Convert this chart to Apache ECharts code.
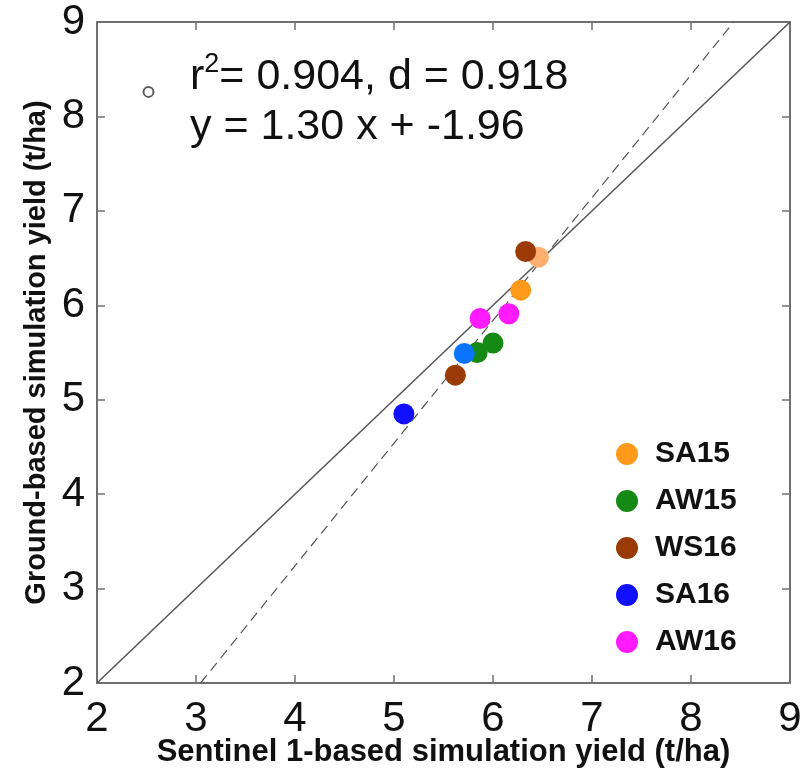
<!DOCTYPE html>
<html>
<head>
<meta charset="utf-8">
<script src="https://cdn.jsdelivr.net/npm/echarts@6/dist/echarts.min.js"></script>
<style>html,body{margin:0;padding:0;background:#fff;}#c{width:809px;height:771px;}</style>
</head>
<body>
<div id="c"></div>
<script>
// Data
const seriesNames = ['SA15', 'AW15', 'WS16', 'SA16', 'AW16'];
const seriesColors = ['#FF9A1A', '#148A14', '#9A3A06', '#1010FF', '#FF1AFF'];
const SA15 = [[6.28, 6.16], [6.46, 6.51]];
const SA15Colors = ['#FF9A1A', '#FFB070'];
const AW15 = [[5.84, 5.50], [6.00, 5.60]];
const WS16 = [[5.62, 5.26], [6.33, 6.57]];
const SA16 = [[5.10, 4.85], [5.71, 5.49]];
const SA16Colors = ['#1010FF', '#0A74FF'];
const AW16 = [[5.87, 5.86], [6.16, 5.91]];
const strayMarker = [[2.52, 8.26]];
const oneToOne = [[2, 2], [9, 9]];
const regSlope = 1.30, regIntercept = -1.96;
const regLine = [[(2 - regIntercept) / regSlope, 2], [(9 - regIntercept) / regSlope, 9]];
const axisTicks = [2, 3, 4, 5, 6, 7, 8, 9];
const statsLine1 = ['r', '2', '= 0.904, d = 0.918'];
const statsLine2 = 'y = 1.30 x + -1.96';

const font = 'Liberation Sans, Arial, sans-serif';
const chart = echarts.init(document.getElementById('c'));

function ptSeries(name, data, idx, colors) {
  return {
    name: name, type: 'scatter', xAxisIndex: 0, yAxisIndex: 0,
    symbol: 'circle', symbolSize: 21, z: 5,
    itemStyle: { color: seriesColors[idx], opacity: 1 },
    data: data.map((d, i) => colors ? { value: d, itemStyle: { color: colors[i] } } : d)
  };
}

const axCommon = {
  type: 'value', min: axisTicks[0], max: axisTicks[axisTicks.length - 1], interval: 1,
  axisLine: { show: true, lineStyle: { color: '#707070', width: 2 } },
  axisTick: { show: true, inside: true, length: 8, lineStyle: { color: '#707070', width: 1.5 } },
  splitLine: { show: false }
};

chart.setOption({
  animation: false,
  backgroundColor: '#fff',
  grid: { left: 97, right: 19, top: 22, bottom: 88, containLabel: false, outerBoundsMode: 'none' },
  xAxis: [
    Object.assign({}, axCommon, {
      position: 'bottom',
      name: 'Sentinel 1-based simulation yield (t/ha)', nameLocation: 'middle', nameGap: 54,
      nameMoveOverlap: false,
      nameTextStyle: { fontFamily: font, fontWeight: 'bold', fontSize: 31, color: '#111' },
      axisLabel: { fontFamily: font, fontSize: 42, color: '#111', margin: 15 }
    }),
    Object.assign({}, axCommon, { position: 'top', axisLabel: { show: false } })
  ],
  yAxis: [
    Object.assign({}, axCommon, {
      position: 'left',
      name: 'Ground-based simulation yield (t/ha)', nameLocation: 'middle', nameGap: 46,
      nameMoveOverlap: false,
      nameTextStyle: { fontFamily: font, fontWeight: 'bold', fontSize: 29, color: '#111' },
      axisLabel: { fontFamily: font, fontSize: 42, color: '#111', margin: 12 }
    }),
    Object.assign({}, axCommon, { position: 'right', axisLabel: { show: false } })
  ],
  legend: {
    orient: 'vertical', left: 611, top: 434,
    data: seriesNames, icon: 'circle', itemWidth: 22, itemHeight: 22, itemGap: 17,
    textStyle: { fontFamily: font, fontWeight: 'bold', fontSize: 30, color: '#111', padding: [0, 0, 0, 12] }
  },
  series: [
    { type: 'line', data: oneToOne, symbol: 'none', silent: true, z: 2,
      lineStyle: { color: '#555', width: 1.5 } },
    { type: 'line', data: regLine, symbol: 'none', silent: true, z: 2,
      lineStyle: { color: '#555', width: 1.2, type: [10, 6] } },
    { type: 'scatter', data: strayMarker, symbol: 'emptyCircle', symbolSize: 10, z: 6,
      itemStyle: { color: '#333', borderColor: '#333', borderWidth: 2.5 } },
    ptSeries('SA15', SA15, 0, SA15Colors),
    ptSeries('AW15', AW15, 1),
    ptSeries('WS16', WS16, 2),
    ptSeries('SA16', SA16, 3, SA16Colors),
    ptSeries('AW16', AW16, 4)
  ],
  graphic: [
    { type: 'text', left: 190, top: 51, style: {
      text: '{b|' + statsLine1[0] + '}{s|' + statsLine1[1] + '}{b|' + statsLine1[2] + '}',
      rich: {
        b: { font: '43px ' + font, fill: '#111', verticalAlign: 'bottom', lineHeight: 48 },
        s: { font: '27px ' + font, fill: '#111', verticalAlign: 'top', lineHeight: 48, padding: [0, 0, 20, 0] }
      } } },
    { type: 'text', left: 190, top: 106, style: { text: statsLine2, font: '43px ' + font, fill: '#111' } }
  ]
});
</script>
</body>
</html>
